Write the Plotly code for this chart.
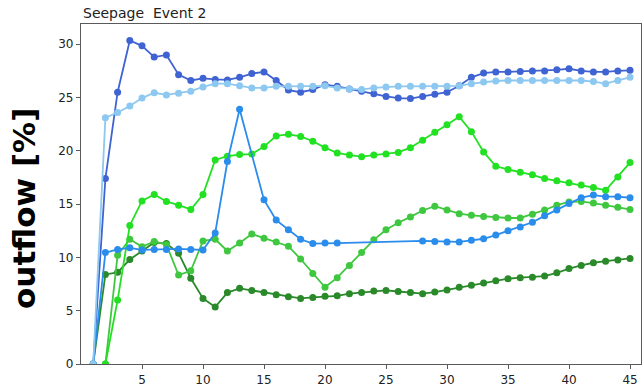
import plotly.graph_objects as go

x = list(range(1, 46))

# outflow [%] per step for each run
dark_blue = [0, 17.4, 25.5, 30.35, 29.85, 28.8, 29.0, 27.15, 26.6, 26.8,
             26.7, 26.65, 26.9, 27.25, 27.4, 26.6, 25.7, 25.5, 25.75, 26.2,
             26.05, 25.8, 25.6, 25.35, 25.1, 24.95, 24.9, 25.1, 25.3, 25.5,
             26.1, 26.9, 27.3, 27.4, 27.4, 27.45, 27.5, 27.5, 27.6, 27.7,
             27.5, 27.4, 27.4, 27.5, 27.55]

light_blue = [0, 23.1, 23.6, 24.2, 24.95, 25.45, 25.25, 25.4, 25.6, 26.0,
              26.3, 26.3, 26.1, 25.9, 25.9, 26.05, 26.05, 26.05, 26.05, 26.1,
              25.9, 25.8, 25.75, 25.9, 26.0, 26.05, 26.05, 26.05, 26.05, 26.05,
              26.1, 26.3, 26.45, 26.55, 26.6, 26.6, 26.6, 26.6, 26.6, 26.6,
              26.6, 26.5, 26.3, 26.6, 26.9]

mid_blue = [0, 10.45, 10.75, 10.9, 10.7, 10.75, 10.75, 10.8, 10.75, 10.7,
            12.3, 19.0, 23.9, None, 15.4, 13.5, 12.6, 11.7, 11.3, 11.35,
            11.35, None, None, None, None, None, None, 11.55, 11.5, 11.45,
            11.45, 11.6, 11.75, 12.1, 12.5, 12.85, 13.3, 13.9, 14.45, 15.05,
            15.6, 15.85, 15.7, 15.7, 15.6]

dark_green = [0, 8.4, 8.6, 9.8, 10.6, 11.4, 11.3, 10.4, 8.05, 6.15,
              5.35, 6.7, 7.1, 6.9, 6.7, 6.5, 6.3, 6.15, 6.25, 6.35,
              6.4, 6.6, 6.7, 6.85, 6.9, 6.8, 6.7, 6.6, 6.75, 6.95,
              7.2, 7.4, 7.6, 7.8, 8.0, 8.1, 8.15, 8.25, 8.55, 8.95,
              9.25, 9.5, 9.65, 9.75, 9.9]

mid_green = [None, 0, 10.2, 11.7, 11.0, 11.5, 11.2, 8.35, 8.75, 11.55,
             11.7, 10.6, 11.35, 12.2, 11.8, 11.45, 11.05, 9.85, 8.5, 7.2,
             8.1, 9.25, 10.45, 11.65, 12.6, 13.25, 13.8, 14.4, 14.8, 14.45,
             14.1, 13.95, 13.85, 13.75, 13.7, 13.7, 14.05, 14.45, 14.9, 15.2,
             15.25, 15.1, 14.9, 14.7, 14.5]

bright_green = [None, 0, 6.0, 13.0, 15.3, 15.9, 15.25, 14.9, 14.5, 15.9,
                19.15, 19.5, 19.65, 19.7, 20.4, 21.4, 21.55, 21.35, 20.9, 20.3,
                19.8, 19.6, 19.45, 19.6, 19.7, 19.85, 20.3, 21.0, 21.75, 22.45,
                23.2, 21.8, 19.9, 18.55, 18.25, 18.0, 17.75, 17.4, 17.2, 17.0,
                16.8, 16.55, 16.3, 17.55, 18.9]

x_ticks = [5, 10, 15, 20, 25, 30, 35, 40, 45]
y_ticks = [0, 5, 10, 15, 20, 25, 30]

# greens underneath, blues on top
series = [
    (dark_green, "#2a8a2a"),
    (mid_green, "#3fc83f"),
    (bright_green, "#22e022"),
    (dark_blue, "#3f63d2"),
    (mid_blue, "#2a8ceb"),
    (light_blue, "#8cc8f0"),
]

fig = go.Figure()
for values, color in series:
    fig.add_trace(go.Scatter(
        x=x, y=values, mode="lines+markers", connectgaps=True,
        line=dict(color=color, width=1.8),
        marker=dict(color=color, size=7),
        showlegend=False,
    ))

axis_common = dict(
    showgrid=False, zeroline=False, showline=True, mirror=True,
    linecolor="#5a5a5a", linewidth=1.2, ticks="outside", ticklen=4,
    tickwidth=1, tickcolor="#5a5a5a",
    tickfont=dict(family="DejaVu Sans", size=12, color="#222"),
)

fig.update_layout(
    width=644, height=389,
    margin=dict(l=81, r=2, t=24, b=23),
    plot_bgcolor="white", paper_bgcolor="white",
    xaxis=dict(range=[0, 45.9], tickvals=x_ticks, **axis_common),
    yaxis=dict(range=[0, 31.9], tickvals=y_ticks, **axis_common),
    annotations=[
        dict(text="Seepage  Event 2", x=0, y=1, xref="paper", yref="paper",
             xanchor="left", yanchor="bottom", yshift=1, showarrow=False,
             font=dict(family="DejaVu Sans", size=14, color="#222")),
        dict(text="<b>outflow [%]</b>", x=-0.103, y=0.457, xref="paper",
             yref="paper", textangle=-90, showarrow=False,
             xanchor="center", yanchor="middle",
             font=dict(family="DejaVu Sans", size=31, color="black")),
    ],
)

fig.write_html("out.html")
